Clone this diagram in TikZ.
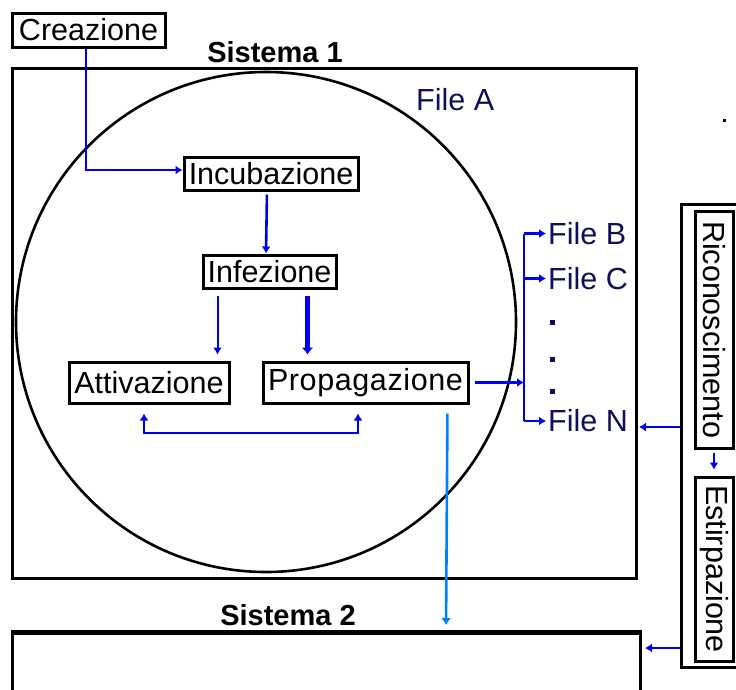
\documentclass[tikz,border=0pt]{standalone}
\usepackage{fontspec}
\setmainfont{Liberation Sans}
\usetikzlibrary{arrows.meta,calc}
\definecolor{arrblue}{RGB}{0,0,240}
\definecolor{lightarr}{RGB}{0,128,255}
\definecolor{navy}{RGB}{16,16,90}
\tikzset{
  box/.style={draw=black, line width=3pt, inner sep=0pt, align=center,
    font=\fontsize{30.5}{33}\selectfont},
  filetxt/.style={anchor=west, inner sep=0pt, text=navy,
    font=\fontsize{30.5}{33}\selectfont},
  title/.style={anchor=base, inner sep=0pt, font=\fontsize{29}{32}\selectfont\bfseries},
  arr/.style={draw=arrblue, line width=2.6pt, -{Latex[length=7pt,width=9pt]}},
  thinarr/.style={draw=arrblue, line width=2pt, -{Latex[length=7pt,width=9pt]}},
  thickarr/.style={draw=arrblue, line width=5pt, -{Latex[length=7pt,width=12pt]}},
  lightarrow/.style={draw=lightarr, line width=2.6pt, -{Latex[length=7pt,width=10pt]}},
  frame/.style={draw=black, line width=3pt}
}
\begin{document}
\begin{tikzpicture}[x=1pt,y=-1pt]
\useasboundingbox (0,0) rectangle (736,689);
\clip (0,0) rectangle (736,689);
\fill[white] (0,0) rectangle (736,689);

% Sistema 1
\node[title] (s1) at (275,62) {Sistema 1};
\draw[frame] (12,68) rectangle (636,578);
\draw[black, line width=2.6pt] (266,322) circle [radius=250pt];
\node[filetxt] (fa) at (416,99.5) {File A};

% Boxes
\node[box, minimum width=153pt, minimum height=34pt] (cre) at (88.5,30) {Creazione};
\node[box, minimum width=174pt, minimum height=33pt] (inc) at (271,173.5) {Incubazione};
\node[box, minimum width=133pt, minimum height=33pt] (inf) at (269.5,271.5) {Infezione};
\node[box, minimum width=160pt, minimum height=41pt] (att) at (149,382.5) {Attivazione};
\node[box, minimum width=205pt, minimum height=41pt] (prop) at (365.5,382.5) {\addfontfeatures{LetterSpace=2}Propagazione};

% Files
\node[filetxt] (fb) at (548,233.5) {File B};
\node[filetxt] (fc) at (548,278.5) {File C};
\node[filetxt] (fn) at (548,421) {File N};
\fill[navy] (550,320) rectangle (555,325);
\fill[navy] (550,357) rectangle (555,362);
\fill[navy] (550,389) rectangle (555,394);
\fill[black] (723,119) rectangle (725.5,121.5);

% bracket coordinates
\coordinate (brtop) at (524,233.5);
\coordinate (brc) at (524,278.5);
\coordinate (brbot) at (524,421);
\coordinate (brmid) at (524,382.5);

% Sistema 2
\node[title] (s2) at (288,625) {Sistema 2};
\draw[black, line width=3pt] (12,700) -- (12,632) (640,632) -- (640,700);
\draw[black, line width=5pt] (10.5,632) -- (641.5,632);
\coordinate (s2top) at (446,632);
\coordinate (s2right) at (640,648);

% right boxes
\node[draw=black, line width=3pt, minimum width=64pt, minimum height=463pt, inner sep=0pt] (ext) at (713.5,435.5) {};
\node[box, minimum width=237pt, minimum height=38pt, rotate=-90] (ric) at (714,329.5) {Riconoscimento};
\node[box, minimum width=184pt, minimum height=38pt, rotate=-90] (est) at (714,569) {Estirpazione};
\coordinate (fnarrow) at (639,427);

% connectors
\draw[arr] ([xshift=-2.5pt]cre.south) |- ($(inc.west)+(0,-3.5)$);
\draw[arr, shorten <=3pt] ([xshift=-4pt]inc.south) -- ([xshift=-3.5pt]inf.north);
\draw[thinarr, shorten <=6pt, shorten >=6pt] ([xshift=16pt]inf.south west) -- ([xshift=16pt]inf.south west |- att.north);
\draw[thickarr, shorten <=6pt, shorten >=6pt] ([xshift=-30pt]inf.south east) -- ([xshift=-30pt]inf.south east |- prop.north);
\draw[draw=arrblue, line width=2.6pt, {Latex[length=7pt,width=9pt]}-{Latex[length=7pt,width=9pt]}]
  ($(att.south)+(-5,9)$) |- ($(att.south)+(-5,28.5)$) -| ($(prop.south)+(-7.5,9)$);
\draw[arr, shorten <=5pt] (prop.east) -- (brmid);
\draw[draw=arrblue, line width=2.6pt] (brtop) -- (brbot);
\draw[arr, shorten >=2pt] (brtop) -- (fb.west);
\draw[arr, shorten >=2pt] (brc) -- (fc.west);
\draw[arr, shorten >=2pt] (brbot) -- (fn.west);
\draw[lightarrow, shorten <=9pt, shorten >=7pt] ([xshift=-22pt]prop.south east) -- (s2top);
\draw[arr] (ext.west |- fnarrow) -- (fnarrow);
\draw[arr, shorten >=5pt] (ext.west |- s2right) -- (s2right);
\draw[arr, shorten <=3pt, shorten >=6pt] (ric.east) -- (est.west);
\end{tikzpicture}
\end{document}
